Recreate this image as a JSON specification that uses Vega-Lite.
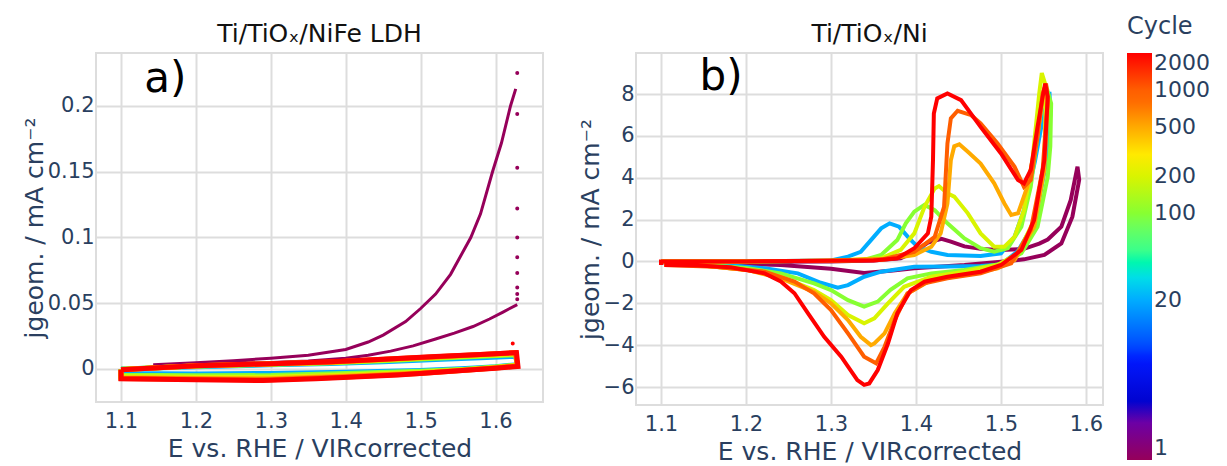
{
  "$schema": "https://vega.github.io/schema/vega-lite/v6.json",
  "padding": {"left": 21, "top": 15, "right": 0, "bottom": 0},
  "background": "white",
  "spacing": 33,
  "datasets": {
    "a": [
      {"c":1,"i":0,"E":1.627,"j":0.213},{"c":1,"i":1,"E":1.62,"j":0.2},{"c":1,"i":2,"E":1.608,"j":0.172},{"c":1,"i":3,"E":1.596,"j":0.15},{"c":1,"i":4,"E":1.58,"j":0.118},{"c":1,"i":5,"E":1.567,"j":0.1},{"c":1,"i":6,"E":1.54,"j":0.072},{"c":1,"i":7,"E":1.52,"j":0.057},{"c":1,"i":8,"E":1.5,"j":0.046},{"c":1,"i":9,"E":1.48,"j":0.036},{"c":1,"i":10,"E":1.45,"j":0.0258},{"c":1,"i":11,"E":1.43,"j":0.0205},{"c":1,"i":12,"E":1.4,"j":0.0148},{"c":1,"i":13,"E":1.35,"j":0.0105},{"c":1,"i":14,"E":1.3,"j":0.0082},{"c":1,"i":15,"E":1.25,"j":0.0063},{"c":1,"i":16,"E":1.2,"j":0.0048},{"c":1,"i":17,"E":1.143,"j":0.0033},
      {"c":1,"i":18,"E":1.15,"j":0.0031},{"c":1,"i":19,"E":1.2,"j":0.0037},{"c":1,"i":20,"E":1.25,"j":0.0043},{"c":1,"i":21,"E":1.3,"j":0.005},{"c":1,"i":22,"E":1.35,"j":0.0061},{"c":1,"i":23,"E":1.4,"j":0.0082},{"c":1,"i":24,"E":1.43,"j":0.0105},{"c":1,"i":25,"E":1.46,"j":0.0136},{"c":1,"i":26,"E":1.49,"j":0.0176},{"c":1,"i":27,"E":1.52,"j":0.0228},{"c":1,"i":28,"E":1.545,"j":0.0273},{"c":1,"i":29,"E":1.57,"j":0.0323},{"c":1,"i":30,"E":1.592,"j":0.038},{"c":1,"i":31,"E":1.61,"j":0.0433},{"c":1,"i":32,"E":1.629,"j":0.049},

      {"c":20,"i":0,"E":1.1,"j":0.0},{"c":20,"i":1,"E":1.2,"j":0.0018},{"c":20,"i":2,"E":1.3,"j":0.0032},{"c":20,"i":3,"E":1.38,"j":0.0042},{"c":20,"i":4,"E":1.45,"j":0.0056},{"c":20,"i":5,"E":1.52,"j":0.0072},{"c":20,"i":6,"E":1.58,"j":0.0086},{"c":20,"i":7,"E":1.627,"j":0.0097},{"c":20,"i":8,"E":1.629,"j":0.0033},{"c":20,"i":9,"E":1.6,"j":0.0018},{"c":20,"i":10,"E":1.56,"j":0.0003},{"c":20,"i":11,"E":1.5,"j":-0.0012},{"c":20,"i":12,"E":1.4,"j":-0.0025},{"c":20,"i":13,"E":1.3,"j":-0.0034},{"c":20,"i":14,"E":1.2,"j":-0.0038},{"c":20,"i":15,"E":1.1,"j":-0.0035},{"c":20,"i":16,"E":1.1,"j":0.0},

      {"c":100,"i":0,"E":1.1,"j":-0.0002},{"c":100,"i":1,"E":1.2,"j":0.0022},{"c":100,"i":2,"E":1.3,"j":0.0036},{"c":100,"i":3,"E":1.38,"j":0.0047},{"c":100,"i":4,"E":1.45,"j":0.0062},{"c":100,"i":5,"E":1.52,"j":0.0082},{"c":100,"i":6,"E":1.58,"j":0.0097},{"c":100,"i":7,"E":1.627,"j":0.0108},{"c":100,"i":8,"E":1.629,"j":0.003},{"c":100,"i":9,"E":1.6,"j":0.0015},{"c":100,"i":10,"E":1.56,"j":-0.0002},{"c":100,"i":11,"E":1.5,"j":-0.0018},{"c":100,"i":12,"E":1.4,"j":-0.0035},{"c":100,"i":13,"E":1.3,"j":-0.005},{"c":100,"i":14,"E":1.2,"j":-0.0052},{"c":100,"i":15,"E":1.1,"j":-0.0048},{"c":100,"i":16,"E":1.1,"j":-0.0002},

      {"c":200,"i":0,"E":1.1,"j":-0.0003},{"c":200,"i":1,"E":1.2,"j":0.0023},{"c":200,"i":2,"E":1.3,"j":0.0038},{"c":200,"i":3,"E":1.38,"j":0.005},{"c":200,"i":4,"E":1.45,"j":0.0068},{"c":200,"i":5,"E":1.52,"j":0.0088},{"c":200,"i":6,"E":1.58,"j":0.0103},{"c":200,"i":7,"E":1.627,"j":0.0115},{"c":200,"i":8,"E":1.629,"j":0.0028},{"c":200,"i":9,"E":1.6,"j":0.0012},{"c":200,"i":10,"E":1.56,"j":-0.0005},{"c":200,"i":11,"E":1.5,"j":-0.0025},{"c":200,"i":12,"E":1.4,"j":-0.0045},{"c":200,"i":13,"E":1.3,"j":-0.0062},{"c":200,"i":14,"E":1.2,"j":-0.0062},{"c":200,"i":15,"E":1.1,"j":-0.0058},{"c":200,"i":16,"E":1.1,"j":-0.0003},

      {"c":500,"i":0,"E":1.1,"j":-0.0004},{"c":500,"i":1,"E":1.2,"j":0.0024},{"c":500,"i":2,"E":1.3,"j":0.0039},{"c":500,"i":3,"E":1.38,"j":0.0052},{"c":500,"i":4,"E":1.45,"j":0.0072},{"c":500,"i":5,"E":1.52,"j":0.0092},{"c":500,"i":6,"E":1.58,"j":0.0108},{"c":500,"i":7,"E":1.627,"j":0.0122},{"c":500,"i":8,"E":1.629,"j":0.0025},{"c":500,"i":9,"E":1.6,"j":0.001},{"c":500,"i":10,"E":1.56,"j":-0.0008},{"c":500,"i":11,"E":1.5,"j":-0.003},{"c":500,"i":12,"E":1.4,"j":-0.0055},{"c":500,"i":13,"E":1.3,"j":-0.0075},{"c":500,"i":14,"E":1.2,"j":-0.0072},{"c":500,"i":15,"E":1.1,"j":-0.0066},{"c":500,"i":16,"E":1.1,"j":-0.0004},

      {"c":1000,"i":0,"E":1.1,"j":-0.0005},{"c":1000,"i":1,"E":1.2,"j":0.0025},{"c":1000,"i":2,"E":1.3,"j":0.004},{"c":1000,"i":3,"E":1.38,"j":0.0054},{"c":1000,"i":4,"E":1.45,"j":0.0074},{"c":1000,"i":5,"E":1.52,"j":0.0094},{"c":1000,"i":6,"E":1.58,"j":0.011},{"c":1000,"i":7,"E":1.627,"j":0.0124},{"c":1000,"i":8,"E":1.629,"j":0.0022},{"c":1000,"i":9,"E":1.6,"j":0.0007},{"c":1000,"i":10,"E":1.56,"j":-0.001},{"c":1000,"i":11,"E":1.5,"j":-0.0035},{"c":1000,"i":12,"E":1.4,"j":-0.006},{"c":1000,"i":13,"E":1.3,"j":-0.0082},{"c":1000,"i":14,"E":1.2,"j":-0.0078},{"c":1000,"i":15,"E":1.1,"j":-0.0072},{"c":1000,"i":16,"E":1.1,"j":-0.0005},

      {"c":2000,"i":0,"E":1.1,"j":-0.0005},{"c":2000,"i":1,"E":1.2,"j":0.0025},{"c":2000,"i":2,"E":1.3,"j":0.004},{"c":2000,"i":3,"E":1.38,"j":0.0055},{"c":2000,"i":4,"E":1.45,"j":0.0075},{"c":2000,"i":5,"E":1.52,"j":0.0095},{"c":2000,"i":6,"E":1.58,"j":0.011},{"c":2000,"i":7,"E":1.628,"j":0.0125},{"c":2000,"i":8,"E":1.63,"j":0.002},{"c":2000,"i":9,"E":1.6,"j":0.0005},{"c":2000,"i":10,"E":1.56,"j":-0.001},{"c":2000,"i":11,"E":1.47,"j":-0.0045},{"c":2000,"i":12,"E":1.36,"j":-0.0075},{"c":2000,"i":13,"E":1.29,"j":-0.0088},{"c":2000,"i":14,"E":1.2,"j":-0.0082},{"c":2000,"i":15,"E":1.1,"j":-0.0075},{"c":2000,"i":16,"E":1.1,"j":-0.0005}
    ],
    "adots": [
      {"c":1,"E":1.629,"j":0.225},{"c":1,"E":1.629,"j":0.194},{"c":1,"E":1.629,"j":0.153},{"c":1,"E":1.629,"j":0.122},{"c":1,"E":1.629,"j":0.1},{"c":1,"E":1.629,"j":0.085},{"c":1,"E":1.629,"j":0.073},{"c":1,"E":1.629,"j":0.062},{"c":1,"E":1.629,"j":0.057},{"c":1,"E":1.629,"j":0.053},
      {"c":2000,"E":1.623,"j":0.0193}
    ],
    "b": [
      {"c":1,"i":0,"E":1.1,"j":-0.05},{"c":1,"i":1,"E":1.2,"j":-0.02},{"c":1,"i":2,"E":1.3,"j":0.0},{"c":1,"i":3,"E":1.35,"j":0.05},{"c":1,"i":4,"E":1.382,"j":0.15},{"c":1,"i":5,"E":1.398,"j":0.46},{"c":1,"i":6,"E":1.414,"j":0.9},{"c":1,"i":7,"E":1.43,"j":1.08},{"c":1,"i":8,"E":1.441,"j":0.95},{"c":1,"i":9,"E":1.457,"j":0.72},{"c":1,"i":10,"E":1.476,"j":0.6},{"c":1,"i":11,"E":1.5,"j":0.55},{"c":1,"i":12,"E":1.527,"j":0.6},{"c":1,"i":13,"E":1.545,"j":0.85},{"c":1,"i":14,"E":1.555,"j":1.05},{"c":1,"i":15,"E":1.571,"j":1.66},{"c":1,"i":16,"E":1.582,"j":2.93},{"c":1,"i":17,"E":1.59,"j":4.53},
      {"c":1,"i":18,"E":1.592,"j":3.9},{"c":1,"i":19,"E":1.584,"j":2.14},{"c":1,"i":20,"E":1.571,"j":0.86},{"c":1,"i":21,"E":1.551,"j":0.31},{"c":1,"i":22,"E":1.527,"j":0.1},{"c":1,"i":23,"E":1.5,"j":-0.01},{"c":1,"i":24,"E":1.457,"j":-0.17},{"c":1,"i":25,"E":1.398,"j":-0.33},{"c":1,"i":26,"E":1.37,"j":-0.45},{"c":1,"i":27,"E":1.339,"j":-0.55},{"c":1,"i":28,"E":1.3,"j":-0.35},{"c":1,"i":29,"E":1.241,"j":-0.17},{"c":1,"i":30,"E":1.182,"j":-0.12},{"c":1,"i":31,"E":1.104,"j":-0.09},

      {"c":20,"i":0,"E":1.1,"j":0.0},{"c":20,"i":1,"E":1.2,"j":0.0},{"c":20,"i":2,"E":1.3,"j":0.05},{"c":20,"i":3,"E":1.32,"j":0.23},{"c":20,"i":4,"E":1.335,"j":0.46},{"c":20,"i":5,"E":1.347,"j":1.02},{"c":20,"i":6,"E":1.359,"j":1.58},{"c":20,"i":7,"E":1.369,"j":1.82},{"c":20,"i":8,"E":1.38,"j":1.66},{"c":20,"i":9,"E":1.392,"j":1.1},{"c":20,"i":10,"E":1.402,"j":0.7},{"c":20,"i":11,"E":1.418,"j":0.46},{"c":20,"i":12,"E":1.437,"j":0.31},{"c":20,"i":13,"E":1.476,"j":0.26},{"c":20,"i":14,"E":1.5,"j":0.39},{"c":20,"i":15,"E":1.516,"j":1.18},{"c":20,"i":16,"E":1.527,"j":2.45},{"c":20,"i":17,"E":1.54,"j":4.8},{"c":20,"i":18,"E":1.55,"j":7.0},{"c":20,"i":19,"E":1.557,"j":8.1},
      {"c":20,"i":20,"E":1.558,"j":7.0},{"c":20,"i":21,"E":1.552,"j":4.5},{"c":20,"i":22,"E":1.54,"j":1.9},{"c":20,"i":23,"E":1.52,"j":0.5},{"c":20,"i":24,"E":1.5,"j":-0.15},{"c":20,"i":25,"E":1.476,"j":-0.22},{"c":20,"i":26,"E":1.437,"j":-0.24},{"c":20,"i":27,"E":1.398,"j":-0.25},{"c":20,"i":28,"E":1.359,"j":-0.49},{"c":20,"i":29,"E":1.339,"j":-0.73},{"c":20,"i":30,"E":1.32,"j":-1.13},{"c":20,"i":31,"E":1.308,"j":-1.25},{"c":20,"i":32,"E":1.288,"j":-1.02},{"c":20,"i":33,"E":1.261,"j":-0.57},{"c":20,"i":34,"E":1.222,"j":-0.33},{"c":20,"i":35,"E":1.163,"j":-0.12},{"c":20,"i":36,"E":1.104,"j":-0.09},

      {"c":100,"i":0,"E":1.1,"j":0.0},{"c":100,"i":1,"E":1.2,"j":0.0},{"c":100,"i":2,"E":1.3,"j":0.03},{"c":100,"i":3,"E":1.339,"j":0.07},{"c":100,"i":4,"E":1.359,"j":0.31},{"c":100,"i":5,"E":1.378,"j":1.02},{"c":100,"i":6,"E":1.388,"j":1.82},{"c":100,"i":7,"E":1.398,"j":2.38},{"c":100,"i":8,"E":1.41,"j":2.7},{"c":100,"i":9,"E":1.422,"j":2.45},{"c":100,"i":10,"E":1.437,"j":1.82},{"c":100,"i":11,"E":1.457,"j":1.1},{"c":100,"i":12,"E":1.476,"j":0.63},{"c":100,"i":13,"E":1.492,"j":0.47},{"c":100,"i":14,"E":1.508,"j":0.63},{"c":100,"i":15,"E":1.524,"j":1.66},{"c":100,"i":16,"E":1.535,"j":3.57},{"c":100,"i":17,"E":1.547,"j":7.23},{"c":100,"i":18,"E":1.553,"j":8.4},
      {"c":100,"i":19,"E":1.559,"j":7.55},{"c":100,"i":20,"E":1.558,"j":5.5},{"c":100,"i":21,"E":1.555,"j":4.05},{"c":100,"i":22,"E":1.543,"j":1.66},{"c":100,"i":23,"E":1.524,"j":0.39},{"c":100,"i":24,"E":1.5,"j":-0.12},{"c":100,"i":25,"E":1.457,"j":-0.41},{"c":100,"i":26,"E":1.418,"j":-0.57},{"c":100,"i":27,"E":1.39,"j":-0.81},{"c":100,"i":28,"E":1.37,"j":-1.36},{"c":100,"i":29,"E":1.355,"j":-1.92},{"c":100,"i":30,"E":1.339,"j":-2.16},{"c":100,"i":31,"E":1.32,"j":-1.85},{"c":100,"i":32,"E":1.3,"j":-1.37},{"c":100,"i":33,"E":1.28,"j":-1.05},{"c":100,"i":34,"E":1.241,"j":-0.57},{"c":100,"i":35,"E":1.202,"j":-0.33},{"c":100,"i":36,"E":1.143,"j":-0.12},{"c":100,"i":37,"E":1.104,"j":-0.09},

      {"c":200,"i":0,"E":1.1,"j":0.0},{"c":200,"i":1,"E":1.2,"j":0.0},{"c":200,"i":2,"E":1.3,"j":0.03},{"c":200,"i":3,"E":1.359,"j":0.15},{"c":200,"i":4,"E":1.382,"j":0.55},{"c":200,"i":5,"E":1.398,"j":1.34},{"c":200,"i":6,"E":1.41,"j":2.61},{"c":200,"i":7,"E":1.422,"j":3.49},{"c":200,"i":8,"E":1.427,"j":3.6},{"c":200,"i":9,"E":1.437,"j":3.25},{"c":200,"i":10,"E":1.445,"j":3.1},{"c":200,"i":11,"E":1.461,"j":2.3},{"c":200,"i":12,"E":1.476,"j":1.34},{"c":200,"i":13,"E":1.492,"j":0.7},{"c":200,"i":14,"E":1.504,"j":0.7},{"c":200,"i":15,"E":1.516,"j":1.18},{"c":200,"i":16,"E":1.527,"j":2.45},{"c":200,"i":17,"E":1.537,"j":4.84},{"c":200,"i":18,"E":1.545,"j":8.03},{"c":200,"i":19,"E":1.548,"j":9.0},
      {"c":200,"i":20,"E":1.553,"j":8.35},{"c":200,"i":21,"E":1.551,"j":4.84},{"c":200,"i":22,"E":1.539,"j":1.98},{"c":200,"i":23,"E":1.52,"j":0.39},{"c":200,"i":24,"E":1.496,"j":-0.17},{"c":200,"i":25,"E":1.457,"j":-0.49},{"c":200,"i":26,"E":1.418,"j":-0.73},{"c":200,"i":27,"E":1.386,"j":-1.21},{"c":200,"i":28,"E":1.367,"j":-2.0},{"c":200,"i":29,"E":1.351,"j":-2.72},{"c":200,"i":30,"E":1.339,"j":-2.96},{"c":200,"i":31,"E":1.32,"j":-2.56},{"c":200,"i":32,"E":1.3,"j":-1.85},{"c":200,"i":33,"E":1.28,"j":-1.37},{"c":200,"i":34,"E":1.241,"j":-0.73},{"c":200,"i":35,"E":1.202,"j":-0.41},{"c":200,"i":36,"E":1.143,"j":-0.17},{"c":200,"i":37,"E":1.104,"j":-0.09},

      {"c":500,"i":0,"E":1.1,"j":0.0},{"c":500,"i":1,"E":1.2,"j":0.0},{"c":500,"i":2,"E":1.3,"j":0.03},{"c":500,"i":3,"E":1.36,"j":0.08},{"c":500,"i":4,"E":1.398,"j":0.31},{"c":500,"i":5,"E":1.418,"j":0.7},{"c":500,"i":6,"E":1.429,"j":1.34},{"c":500,"i":7,"E":1.437,"j":2.77},{"c":500,"i":8,"E":1.441,"j":4.84},{"c":500,"i":9,"E":1.445,"j":5.5},{"c":500,"i":10,"E":1.451,"j":5.6},{"c":500,"i":11,"E":1.461,"j":5.24},{"c":500,"i":12,"E":1.476,"j":4.68},{"c":500,"i":13,"E":1.492,"j":3.73},{"c":500,"i":14,"E":1.504,"j":2.77},{"c":500,"i":15,"E":1.512,"j":2.22},{"c":500,"i":16,"E":1.52,"j":2.3},{"c":500,"i":17,"E":1.531,"j":3.57},{"c":500,"i":18,"E":1.541,"j":5.64},{"c":500,"i":19,"E":1.549,"j":7.71},{"c":500,"i":20,"E":1.553,"j":8.35},
      {"c":500,"i":21,"E":1.555,"j":7.55},{"c":500,"i":22,"E":1.551,"j":4.37},{"c":500,"i":23,"E":1.539,"j":1.66},{"c":500,"i":24,"E":1.516,"j":0.07},{"c":500,"i":25,"E":1.496,"j":-0.33},{"c":500,"i":26,"E":1.457,"j":-0.65},{"c":500,"i":27,"E":1.418,"j":-0.89},{"c":500,"i":28,"E":1.39,"j":-1.53},{"c":500,"i":29,"E":1.375,"j":-2.48},{"c":500,"i":30,"E":1.363,"j":-3.44},{"c":500,"i":31,"E":1.351,"j":-3.92},{"c":500,"i":32,"E":1.347,"j":-4.0},{"c":500,"i":33,"E":1.335,"j":-3.6},{"c":500,"i":34,"E":1.32,"j":-2.8},{"c":500,"i":35,"E":1.3,"j":-2.0},{"c":500,"i":36,"E":1.28,"j":-1.45},{"c":500,"i":37,"E":1.241,"j":-0.81},{"c":500,"i":38,"E":1.202,"j":-0.41},{"c":500,"i":39,"E":1.143,"j":-0.17},{"c":500,"i":40,"E":1.104,"j":-0.12},

      {"c":1000,"i":0,"E":1.1,"j":0.0},{"c":1000,"i":1,"E":1.2,"j":0.0},{"c":1000,"i":2,"E":1.3,"j":0.04},{"c":1000,"i":3,"E":1.36,"j":0.1},{"c":1000,"i":4,"E":1.398,"j":0.46},{"c":1000,"i":5,"E":1.422,"j":1.18},{"c":1000,"i":6,"E":1.433,"j":2.61},{"c":1000,"i":7,"E":1.437,"j":5.64},{"c":1000,"i":8,"E":1.441,"j":6.84},{"c":1000,"i":9,"E":1.449,"j":7.2},{"c":1000,"i":10,"E":1.465,"j":6.99},{"c":1000,"i":11,"E":1.476,"j":6.59},{"c":1000,"i":12,"E":1.496,"j":5.64},{"c":1000,"i":13,"E":1.516,"j":4.52},{"c":1000,"i":14,"E":1.527,"j":3.57},{"c":1000,"i":15,"E":1.535,"j":3.89},{"c":1000,"i":16,"E":1.543,"j":5.96},{"c":1000,"i":17,"E":1.549,"j":8.03},{"c":1000,"i":18,"E":1.553,"j":8.5},
      {"c":1000,"i":19,"E":1.555,"j":7.71},{"c":1000,"i":20,"E":1.549,"j":4.37},{"c":1000,"i":21,"E":1.535,"j":1.5},{"c":1000,"i":22,"E":1.512,"j":-0.09},{"c":1000,"i":23,"E":1.476,"j":-0.57},{"c":1000,"i":24,"E":1.437,"j":-0.81},{"c":1000,"i":25,"E":1.41,"j":-1.05},{"c":1000,"i":26,"E":1.39,"j":-1.53},{"c":1000,"i":27,"E":1.375,"j":-2.8},{"c":1000,"i":28,"E":1.363,"j":-4.08},{"c":1000,"i":29,"E":1.353,"j":-4.87},{"c":1000,"i":30,"E":1.339,"j":-4.55},{"c":1000,"i":31,"E":1.32,"j":-3.44},{"c":1000,"i":32,"E":1.3,"j":-2.32},{"c":1000,"i":33,"E":1.28,"j":-1.52},{"c":1000,"i":34,"E":1.257,"j":-0.96},{"c":1000,"i":35,"E":1.222,"j":-0.49},{"c":1000,"i":36,"E":1.163,"j":-0.25},{"c":1000,"i":37,"E":1.104,"j":-0.17},

      {"c":2000,"i":0,"E":1.1,"j":-0.17},{"c":2000,"i":1,"E":1.1,"j":0.0},{"c":2000,"i":2,"E":1.2,"j":0.0},{"c":2000,"i":3,"E":1.3,"j":0.03},{"c":2000,"i":4,"E":1.35,"j":0.05},{"c":2000,"i":5,"E":1.378,"j":0.15},{"c":2000,"i":6,"E":1.398,"j":0.63},{"c":2000,"i":7,"E":1.414,"j":1.34},{"c":2000,"i":8,"E":1.418,"j":2.14},{"c":2000,"i":9,"E":1.42,"j":4.84},{"c":2000,"i":10,"E":1.421,"j":7.07},{"c":2000,"i":11,"E":1.425,"j":7.79},{"c":2000,"i":12,"E":1.437,"j":8.03},{"c":2000,"i":13,"E":1.453,"j":7.71},{"c":2000,"i":14,"E":1.476,"j":6.43},{"c":2000,"i":15,"E":1.5,"j":5.16},{"c":2000,"i":16,"E":1.52,"j":3.89},{"c":2000,"i":17,"E":1.527,"j":3.73},{"c":2000,"i":18,"E":1.535,"j":4.37},{"c":2000,"i":19,"E":1.543,"j":6.43},{"c":2000,"i":20,"E":1.549,"j":7.87},{"c":2000,"i":21,"E":1.552,"j":8.5},
      {"c":2000,"i":22,"E":1.555,"j":7.87},{"c":2000,"i":23,"E":1.551,"j":4.84},{"c":2000,"i":24,"E":1.539,"j":1.98},{"c":2000,"i":25,"E":1.524,"j":0.55},{"c":2000,"i":26,"E":1.5,"j":-0.17},{"c":2000,"i":27,"E":1.476,"j":-0.49},{"c":2000,"i":28,"E":1.437,"j":-0.73},{"c":2000,"i":29,"E":1.41,"j":-0.97},{"c":2000,"i":30,"E":1.394,"j":-1.37},{"c":2000,"i":31,"E":1.378,"j":-2.48},{"c":2000,"i":32,"E":1.367,"j":-3.92},{"c":2000,"i":33,"E":1.355,"j":-5.19},{"c":2000,"i":34,"E":1.345,"j":-5.83},{"c":2000,"i":35,"E":1.339,"j":-5.9},{"c":2000,"i":36,"E":1.331,"j":-5.67},{"c":2000,"i":37,"E":1.312,"j":-4.55},{"c":2000,"i":38,"E":1.292,"j":-3.6},{"c":2000,"i":39,"E":1.273,"j":-2.48},{"c":2000,"i":40,"E":1.257,"j":-1.52},{"c":2000,"i":41,"E":1.241,"j":-0.96},{"c":2000,"i":42,"E":1.222,"j":-0.57},{"c":2000,"i":43,"E":1.182,"j":-0.28},{"c":2000,"i":44,"E":1.143,"j":-0.19},{"c":2000,"i":45,"E":1.104,"j":-0.17}
    ]
  },
  "hconcat": [
    {
      "width": 447,
      "height": 349,
      "title": {"text": "Ti/TiOₓ/NiFe LDH"},
      "layer": [
        {
          "data": {"name": "a"},
          "transform": [{"filter": "datum.c == 1"}],
          "mark": {"type": "line", "strokeWidth": 3, "clip": true},
          "encoding": {
            "x": {"field": "E", "type": "quantitative", "scale": {"domain": [1.0666, 1.6634], "nice": false, "zero": false}, "axis": {"values": [1.1, 1.2, 1.3, 1.4, 1.5, 1.6], "format": ".1f", "title": "E vs. RHE / VIRcorrected"}},
            "y": {"field": "j", "type": "quantitative", "scale": {"domain": [-0.0251, 0.2403], "nice": false, "zero": false}, "axis": {"values": [0, 0.05, 0.1, 0.15, 0.2], "format": "~g", "title": "jgeom. / mA cm⁻²"}},
            "color": {"field": "c", "type": "quantitative", "scale": {"type": "log", "domain": [1, 2.586, 6.687, 17.29, 44.72, 115.65, 299.1, 773.4, 2000], "range": ["rgb(150,0,90)", "rgb(0,0,200)", "rgb(0,25,255)", "rgb(0,152,255)", "rgb(44,255,150)", "rgb(151,255,0)", "rgb(255,234,0)", "rgb(255,111,0)", "rgb(255,0,0)"]}, "legend": {"type": "gradient", "title": "Cycle", "values": [1, 20, 100, 200, 500, 1000, 2000], "format": "d"}},
            "order": {"field": "i", "type": "quantitative"}
          }
        },
        {
          "data": {"name": "a"},
          "transform": [{"filter": "datum.c > 1"}],
          "mark": {"type": "line", "strokeWidth": 5, "clip": true},
          "encoding": {
            "x": {"field": "E", "type": "quantitative"},
            "y": {"field": "j", "type": "quantitative"},
            "color": {"field": "c", "type": "quantitative"},
            "order": {"field": "i", "type": "quantitative"}
          }
        },
        {
          "data": {"name": "adots"},
          "mark": {"type": "point", "filled": false, "shape": "circle", "size": 4, "strokeWidth": 2, "opacity": 1, "clip": true},
          "encoding": {
            "x": {"field": "E", "type": "quantitative"},
            "y": {"field": "j", "type": "quantitative"},
            "color": {"field": "c", "type": "quantitative"}
          }
        },
        {
          "data": {"values": [{}]},
          "mark": {"type": "text", "text": "a)", "fontSize": 42, "color": "black", "align": "center", "baseline": "alphabetic", "font": "DejaVu Sans"},
          "encoding": {"x": {"datum": 1.159}, "y": {"datum": 0.211}}
        }
      ]
    },
    {
      "width": 467,
      "height": 352,
      "title": {"text": "Ti/TiOₓ/Ni"},
      "layer": [
        {
          "data": {"name": "b"},
          "mark": {"type": "line", "strokeWidth": 4, "clip": true},
          "encoding": {
            "x": {"field": "E", "type": "quantitative", "scale": {"domain": [1.0706, 1.62], "nice": false, "zero": false}, "axis": {"values": [1.1, 1.2, 1.3, 1.4, 1.5, 1.6], "format": ".1f", "title": "E vs. RHE / VIRcorrected"}},
            "y": {"field": "j", "type": "quantitative", "scale": {"domain": [-6.86, 9.96], "nice": false, "zero": false}, "axis": {"values": [-6, -4, -2, 0, 2, 4, 6, 8], "format": "d", "title": "jgeom. / mA cm⁻²"}},
            "color": {"field": "c", "type": "quantitative"},
            "order": {"field": "i", "type": "quantitative"}
          }
        },
        {
          "data": {"values": [{}]},
          "mark": {"type": "text", "text": "b)", "fontSize": 42, "color": "black", "align": "center", "baseline": "alphabetic", "font": "DejaVu Sans"},
          "encoding": {"x": {"datum": 1.1706}, "y": {"datum": 8.19}}
        }
      ]
    }
  ],
  "config": {
    "font": "DejaVu Sans",
    "view": {"stroke": "#dddddd", "strokeWidth": 2},
    "axis": {"grid": true, "gridColor": "#dddddd", "gridWidth": 2, "domain": false, "ticks": false, "tickSize": 0, "labelFont": "DejaVu Sans", "labelFontSize": 21, "labelColor": "#2a3f5f", "titleFont": "DejaVu Sans", "titleFontSize": 25, "titleColor": "#2a3f5f", "titleFontWeight": "normal"},
    "axisX": {"labelPadding": 8, "titlePadding": 5},
    "axisY": {"labelPadding": 2, "titlePadding": 0},
    "title": {"font": "DejaVu Sans", "fontSize": 25, "fontWeight": "normal", "color": "#111111", "offset": 6},
    "legend": {"orient": "none", "legendX": 1031, "legendY": -38, "direction": "vertical", "gradientLength": 407, "gradientThickness": 25, "gradientStrokeWidth": 0, "padding": 0, "titleFont": "DejaVu Sans", "titleFontSize": 24, "titleColor": "#2a3f5f", "titleFontWeight": "normal", "titlePadding": 14, "titleAnchor": "start", "labelFont": "DejaVu Sans", "labelFontSize": 22, "labelColor": "#2a3f5f", "labelOffset": 8, "labelOverlap": false}
  }
}
